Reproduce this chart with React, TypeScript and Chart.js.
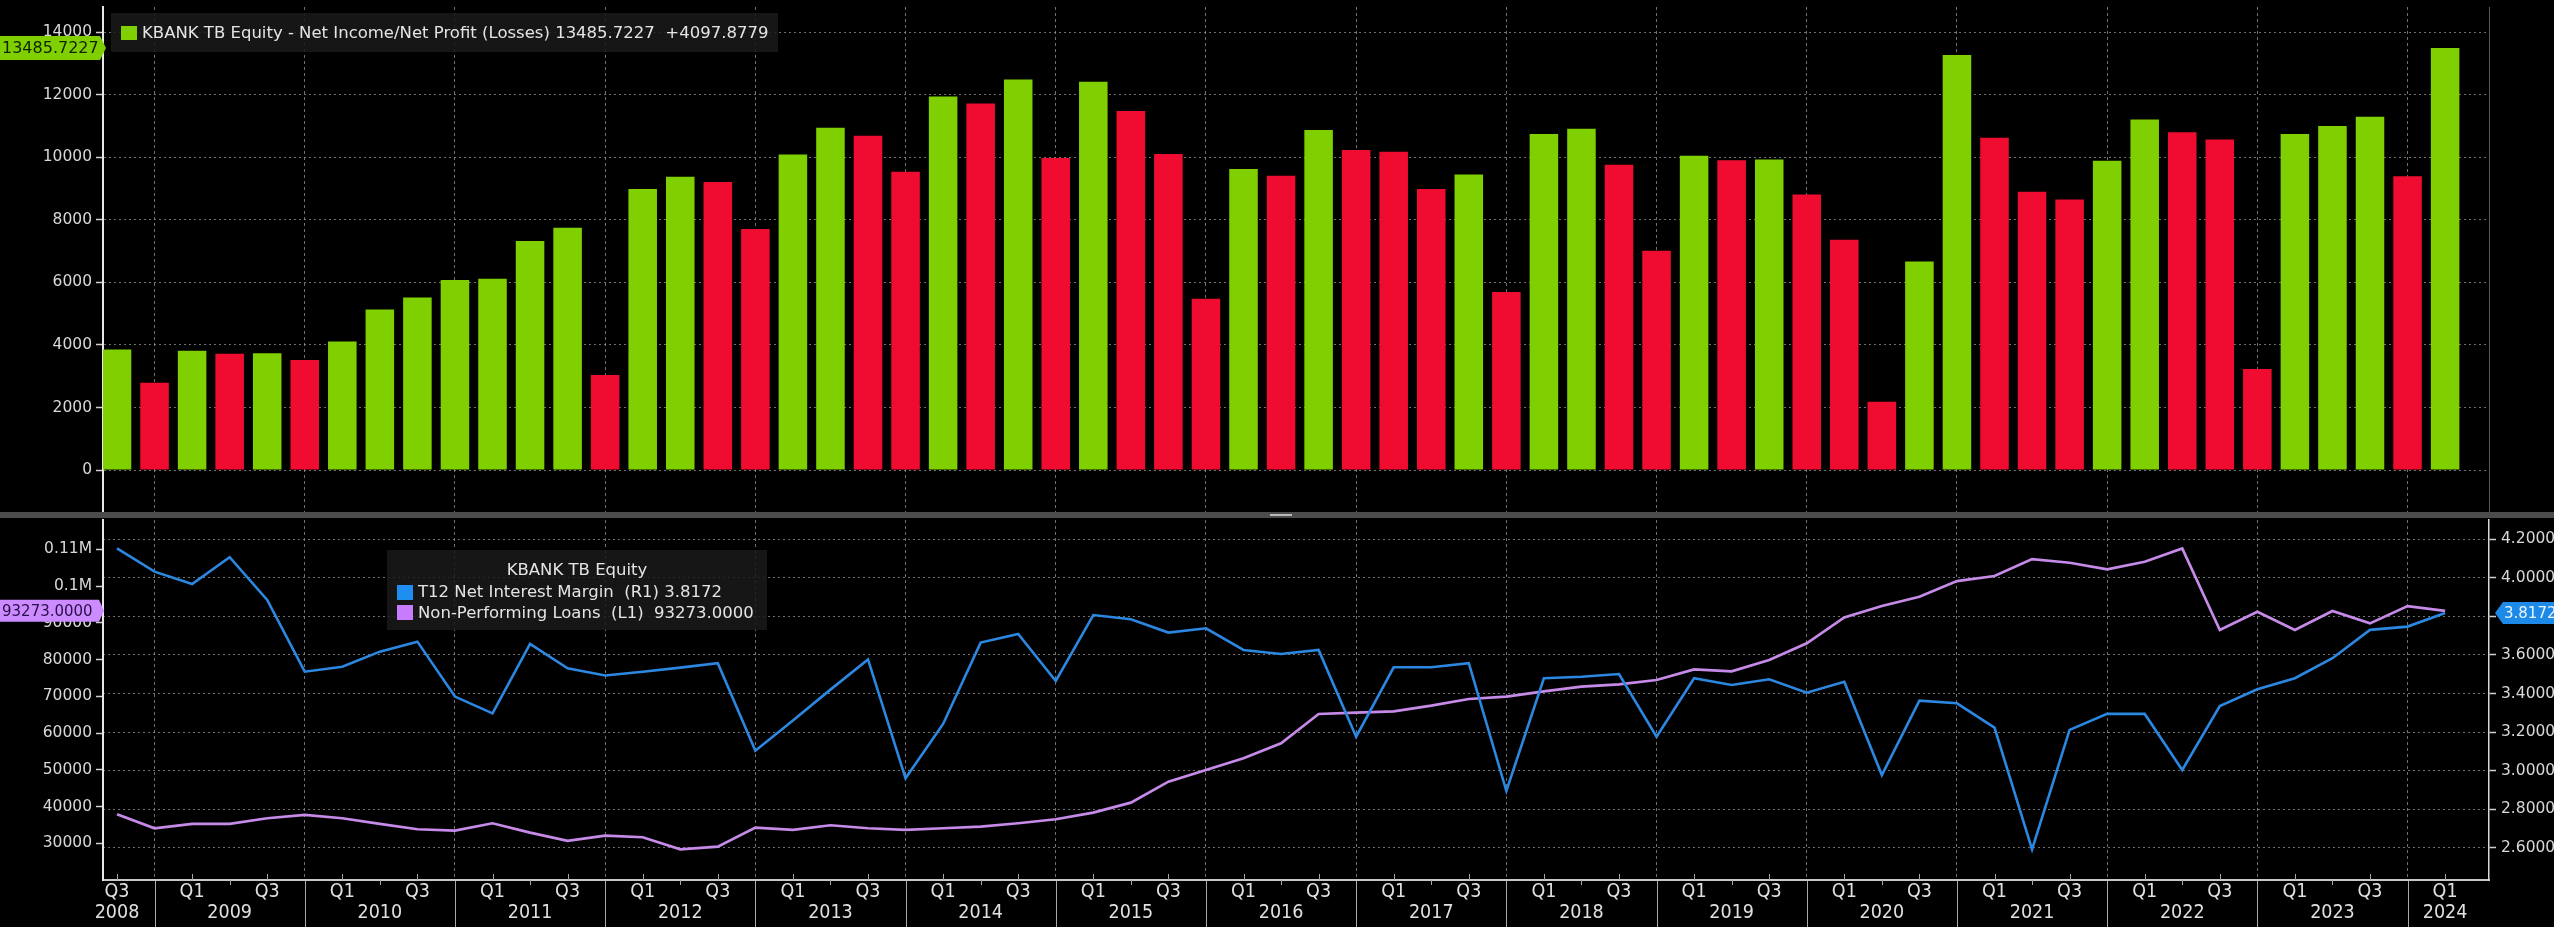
import React, { useEffect, useRef } from "react";
import { Chart, registerables } from "chart.js";

Chart.register(...registerables);

// ---------------- data ----------------
const quarters = [
  "2008 Q3", "2008 Q4",
  "2009 Q1", "2009 Q2", "2009 Q3", "2009 Q4",
  "2010 Q1", "2010 Q2", "2010 Q3", "2010 Q4",
  "2011 Q1", "2011 Q2", "2011 Q3", "2011 Q4",
  "2012 Q1", "2012 Q2", "2012 Q3", "2012 Q4",
  "2013 Q1", "2013 Q2", "2013 Q3", "2013 Q4",
  "2014 Q1", "2014 Q2", "2014 Q3", "2014 Q4",
  "2015 Q1", "2015 Q2", "2015 Q3", "2015 Q4",
  "2016 Q1", "2016 Q2", "2016 Q3", "2016 Q4",
  "2017 Q1", "2017 Q2", "2017 Q3", "2017 Q4",
  "2018 Q1", "2018 Q2", "2018 Q3", "2018 Q4",
  "2019 Q1", "2019 Q2", "2019 Q3", "2019 Q4",
  "2020 Q1", "2020 Q2", "2020 Q3", "2020 Q4",
  "2021 Q1", "2021 Q2", "2021 Q3", "2021 Q4",
  "2022 Q1", "2022 Q2", "2022 Q3", "2022 Q4",
  "2023 Q1", "2023 Q2", "2023 Q3", "2023 Q4",
  "2024 Q1",
];

const netIncome = [
  3857, 2791,
  3814, 3720, 3735, 3516,
  4112, 5135, 5519, 6073,
  6115, 7319, 7745, 3036,
  8981, 9375, 9205, 7703,
  10089, 10942, 10686, 9535,
  11943, 11719, 12486, 9972,
  12412, 11474, 10100, 5476,
  9621, 9407, 10867, 10228,
  10175, 8981, 9450, 5689,
  10739, 10910, 9759, 7010,
  10047, 9905, 9925, 8811,
  7362, 2184, 6669, 13264,
  10622, 8896, 8651, 9887,
  11208, 10793, 10569, 3228,
  10739, 10995, 11293, 9387.8448,
  13485.7227,
];

const nimT12 = [
  4.153, 4.032,
  3.968, 4.107, 3.885, 3.513,
  3.539, 3.617, 3.669, 3.384,
  3.297, 3.657, 3.531, 3.493,
  3.513, 3.534, 3.557, 3.103,
  3.26, 3.42, 3.577, 2.96,
  3.242, 3.664, 3.709, 3.465,
  3.807, 3.785, 3.716, 3.738,
  3.626, 3.605, 3.626, 3.176,
  3.536, 3.536, 3.557, 2.894,
  3.479, 3.487, 3.501, 3.176,
  3.479, 3.444, 3.474, 3.404,
  3.461, 2.977, 3.363, 3.349,
  3.223, 2.591, 3.211, 3.294,
  3.294, 3.003, 3.335, 3.422,
  3.479, 3.583, 3.73, 3.747,
  3.8172,
];

const nplLoans = [
  37891, 34082,
  35261, 35261, 36803, 37710,
  36803, 35261, 33809, 33447,
  35442, 32902, 30635, 32086,
  31633, 28367, 29093, 34263,
  33628, 34898, 34082, 33628,
  34082, 34535, 35442, 36530,
  38344, 41065, 46780, 49954,
  53129, 57210, 65192, 65554,
  65917, 67459, 69273, 69908,
  71359, 72629, 73264, 74443,
  77345, 76801, 79885, 84420,
  91495, 94578, 97118, 101381,
  102741, 107367, 106369, 104555,
  106642, 110270, 88048, 93037,
  88048, 93218, 89862, 94578,
  93273,
];

const incomeTicks = [0, 2000, 4000, 6000, 8000, 10000, 12000, 14000];
const nplTicks = [30000, 40000, 50000, 60000, 70000, 80000, 90000, 100000, 110000];
const nimTicks = [2.6, 2.8, 3.0, 3.2, 3.4, 3.6, 3.8, 4.0, 4.2];

const incomeTitle = "KBANK TB Equity - Net Income/Net Profit (Losses)";
const lowerTitle = "KBANK TB Equity";
const nimName = "T12 Net Interest Margin  (R1)";
const nplName = "Non-Performing Loans  (L1)";

// ---------------- styles ----------------
const FONT = '"DejaVu Sans", "Noto Sans", sans-serif';
const XFONT = '"Liberation Sans Narrow", "DejaVu Sans Condensed", sans-serif';
const GREEN = "#80cf00";
const RED = "#f00c30";
const BLUE = "#2b87e0";
const PURPLE = "#c68ae8";
const GRID = "rgba(150,150,150,0.75)";
const CLEAR = "rgba(0,0,0,0)";
const TICK_TXT = "#d8d8d8";
const AXIS = "#d0d0d0";

const X_MIN = -0.373;
const X_MAX = 63.169;

const lastIdx = netIncome.length - 1;
const lastIncome = netIncome[lastIdx];
const incomeChange = lastIncome - netIncome[lastIdx - 1];
const lastNim = nimT12[nimT12.length - 1];
const lastNpl = nplLoans[nplLoans.length - 1];

function near(list: number[], v: number) {
  return list.some((t) => Math.abs(t - v) < 1e-7 * Math.max(1, Math.abs(t)));
}
function withMinor(major: number[], min: number, max: number) {
  const half = (major[1] - major[0]) / 2;
  const vals = [...major, ...major.map((m) => m - half), major[major.length - 1] + half];
  return vals
    .filter((v) => v >= min - 1e-9 && v <= max + 1e-9)
    .sort((a, b) => a - b)
    .map((value) => ({ value }));
}
function isYearEnd(v: number) {
  const q = quarters[v];
  return !!q && q.endsWith("Q4");
}
function zeroPad(s: any) {
  s.paddingTop = 0;
  s.paddingBottom = 0;
  s.paddingLeft = 0;
  s.paddingRight = 0;
}

function drawTag(
  ctx: CanvasRenderingContext2D,
  o: { left: number; right: number; tip: number; y: number; h: number; bg: string; fg: string; text: string; textX: number; size: number; pointRight: boolean }
) {
  const t = o.y - o.h / 2;
  const b = o.y + o.h / 2;
  ctx.save();
  ctx.fillStyle = o.bg;
  ctx.beginPath();
  if (o.pointRight) {
    ctx.moveTo(o.left, t);
    ctx.lineTo(o.right, t);
    ctx.lineTo(o.tip, o.y);
    ctx.lineTo(o.right, b);
    ctx.lineTo(o.left, b);
  } else {
    ctx.moveTo(o.tip, o.y);
    ctx.lineTo(o.left, t);
    ctx.lineTo(o.right, t);
    ctx.lineTo(o.right, b);
    ctx.lineTo(o.left, b);
  }
  ctx.closePath();
  ctx.fill();
  ctx.fillStyle = o.fg;
  ctx.font = `${o.size}px ${FONT}`;
  ctx.textBaseline = "middle";
  ctx.textAlign = "left";
  ctx.fillText(o.text, o.textX, o.y + 1);
  ctx.restore();
}

const yearEndGrid = (c: any) => (c.tick && isYearEnd(c.tick.value) ? GRID : CLEAR);

export default function App() {
  const topRef = useRef<HTMLCanvasElement>(null);
  const botRef = useRef<HTMLCanvasElement>(null);

  useEffect(() => {
    const barColors = netIncome.map((v, i) => (i === 0 || v >= netIncome[i - 1] ? GREEN : RED));

    const topTag = {
      id: "topTag",
      afterDraw(chart: any) {
        const y = chart.scales.y.getPixelForValue(lastIncome);
        drawTag(chart.ctx, {
          left: 0, right: 100, tip: 106, y, h: 24, bg: GREEN, fg: "#0e2400",
          text: lastIncome.toFixed(4), textX: 2, size: 16, pointRight: true,
        });
      },
    };

    const top = new Chart(topRef.current as HTMLCanvasElement, {
      type: "bar",
      data: {
        datasets: [
          {
            data: netIncome.map((v, i) => ({ x: i, y: v })),
            backgroundColor: barColors,
            borderWidth: 0,
            categoryPercentage: 1,
            barPercentage: 0.76,
          } as any,
        ],
      },
      options: {
        animation: false,
        responsive: false,
        maintainAspectRatio: false,
        layout: { padding: { top: 7, right: 0, bottom: 0, left: 0 } },
        plugins: { legend: { display: false }, tooltip: { enabled: false } },
        scales: {
          x: {
            type: "linear",
            offset: false,
            min: X_MIN,
            max: X_MAX,
            afterBuildTicks: (s: any) => {
              s.ticks = quarters.map((_, i) => ({ value: i }));
            },
            ticks: { display: false },
            grid: { offset: false, color: yearEndGrid, lineWidth: 1, drawTicks: false },
            border: { display: false, dash: [3, 3] },
            afterFit: (s: any) => {
              s.height = 0;
              zeroPad(s);
            },
          },
          y: {
            type: "linear",
            position: "left",
            min: -1340,
            max: 14800,
            afterBuildTicks: (s: any) => {
              s.ticks = withMinor(incomeTicks, -1340, 14800);
            },
            ticks: {
              color: TICK_TXT,
              padding: 4,
              font: { family: FONT, size: 15.5 },
              callback: (v: any) => (near(incomeTicks, v) ? String(v) : null),
            },
            grid: {
              color: (c: any) => (c.tick && near(incomeTicks, c.tick.value) ? GRID : CLEAR),
              lineWidth: 1,
              drawTicks: true,
              tickLength: 7,
              tickColor: AXIS,
              tickWidth: 1.5,
            },
            border: { display: true, color: "#e8e8e8", width: 2, dash: [2, 3] },
            afterFit: (s: any) => {
              s.width = 103;
              zeroPad(s);
            },
          },
          y2: {
            type: "linear",
            position: "right",
            min: 0,
            max: 1,
            ticks: { display: false },
            grid: { display: false, drawOnChartArea: false, drawTicks: false },
            border: { display: true, color: "#5a5a5a", width: 1 },
            afterFit: (s: any) => {
              s.width = 65;
              zeroPad(s);
            },
          },
        },
      } as any,
      plugins: [topTag],
    });

    const botDecor = {
      id: "botDecor",
      afterDraw(chart: any) {
        const ctx = chart.ctx as CanvasRenderingContext2D;
        const xs = chart.scales.x;
        const bottom = chart.chartArea.bottom;
        ctx.save();
        ctx.strokeStyle = "#a8a8a8";
        ctx.lineWidth = 1;
        xs.ticks.forEach((t: any) => {
          const v = t.value;
          const px = Math.round(xs.getPixelForValue(v)) + 0.5;
          const q = quarters[v];
          ctx.beginPath();
          if (isYearEnd(v)) {
            ctx.moveTo(px, bottom + 1);
            ctx.lineTo(px, chart.height);
          } else if (!q || q.endsWith("Q2")) {
            ctx.moveTo(px, bottom);
            ctx.lineTo(px, bottom + 5);
          } else {
            ctx.moveTo(px, bottom - 6);
            ctx.lineTo(px, bottom);
          }
          ctx.stroke();
        });
        ctx.restore();

        const yl = chart.scales.yL;
        const yr = chart.scales.yR;
        drawTag(ctx, {
          left: 0, right: 99, tip: 104, y: yl.getPixelForValue(lastNpl), h: 22,
          bg: "#cc8cff", fg: "#2a0e48", text: lastNpl.toFixed(4), textX: 2, size: 15, pointRight: true,
        });
        drawTag(ctx, {
          left: 2503, right: 2554, tip: 2495, y: yr.getPixelForValue(lastNim), h: 22,
          bg: "#1e8ae8", fg: "#e8f4ff", text: lastNim.toFixed(4), textX: 2504, size: 15, pointRight: false,
        });
      },
    };

    const bot = new Chart(botRef.current as HTMLCanvasElement, {
      type: "line",
      data: {
        datasets: [
          {
            label: nimName,
            data: nimT12.map((v, i) => ({ x: i, y: v })),
            yAxisID: "yR",
            borderColor: BLUE,
            borderWidth: 2.6,
            pointRadius: 0,
            tension: 0,
          },
          {
            label: nplName,
            data: nplLoans.map((v, i) => ({ x: i, y: v })),
            yAxisID: "yL",
            borderColor: PURPLE,
            borderWidth: 2.7,
            pointRadius: 0,
            tension: 0,
          },
        ],
      },
      options: {
        animation: false,
        responsive: false,
        maintainAspectRatio: false,
        layout: { padding: { top: 2, right: 0, bottom: 0, left: 0 } },
        plugins: { legend: { display: false }, tooltip: { enabled: false } },
        scales: {
          x: {
            type: "linear",
            offset: false,
            min: X_MIN,
            max: X_MAX,
            afterBuildTicks: (s: any) => {
              s.ticks = [...quarters.map((_, i) => i), quarters.length].map((value) => ({ value }));
            },
            ticks: {
              autoSkip: false,
              maxRotation: 0,
              minRotation: 0,
              padding: 1,
              color: "#e0e0e0",
              font: { family: XFONT, size: 19.5, lineHeight: 1.08 },
              callback: (v: any) => {
                const q = quarters[v];
                if (!q) return null;
                const [yr, qq] = q.split(" ");
                const l1 = qq === "Q1" || qq === "Q3" ? qq : "";
                const l2 = qq === "Q2" || v === 0 || v === quarters.length - 1 ? yr : "";
                return [l1, l2];
              },
            },
            grid: { offset: false, color: yearEndGrid, lineWidth: 1, drawTicks: false },
            border: { display: true, color: "#c8c8c8", width: 2, dash: [3, 3] },
            afterFit: (s: any) => {
              s.height = 47;
              zeroPad(s);
            },
          },
          yL: {
            type: "linear",
            position: "left",
            min: 20000,
            max: 118000,
            afterBuildTicks: (s: any) => {
              s.ticks = withMinor(nplTicks, 20000, 118000);
            },
            ticks: {
              color: TICK_TXT,
              padding: 4,
              font: { family: FONT, size: 15.5 },
              callback: (v: any) => {
                if (!near(nplTicks, v)) return null;
                return v >= 100000 ? `${v / 1e6}M` : String(v);
              },
            },
            grid: {
              drawOnChartArea: false,
              drawTicks: true,
              tickLength: 7,
              tickColor: AXIS,
              tickWidth: 1.5,
            },
            border: { display: true, color: "#e8e8e8", width: 2 },
            afterFit: (s: any) => {
              s.width = 103;
              zeroPad(s);
            },
          },
          yR: {
            type: "linear",
            position: "right",
            min: 2.4324,
            max: 4.3,
            afterBuildTicks: (s: any) => {
              s.ticks = withMinor(nimTicks, 2.4324, 4.3);
            },
            ticks: {
              color: TICK_TXT,
              padding: 5,
              font: { family: FONT, size: 15.5 },
              callback: (v: any) => (near(nimTicks, v) ? Number(v).toFixed(4) : null),
            },
            grid: {
              color: (c: any) => (c.tick && near(nimTicks, c.tick.value) ? GRID : CLEAR),
              lineWidth: 1,
              drawTicks: true,
              tickLength: 7,
              tickColor: AXIS,
              tickWidth: 1.5,
            },
            border: { display: true, color: "#d8d8d8", width: 1.5, dash: [2, 3] },
            afterFit: (s: any) => {
              s.width = 65;
              zeroPad(s);
            },
          },
        },
      } as any,
      plugins: [botDecor],
    });

    return () => {
      top.destroy();
      bot.destroy();
    };
  }, []);

  const legendBg = "rgba(26,26,26,0.86)";
  return (
    <div
      style={{
        position: "fixed",
        left: 0,
        top: 0,
        width: 2554,
        height: 927,
        background: "#000",
        overflow: "hidden",
        fontFamily: FONT,
        color: "#e4e4e4",
      }}
    >
      <canvas ref={topRef} width={2554} height={512} style={{ position: "absolute", left: 0, top: 0, display: "block" }} />
      <div style={{ position: "absolute", left: 0, top: 512, width: 2554, height: 6, background: "#4c4c4c" }} />
      <div style={{ position: "absolute", left: 1270, top: 514, width: 22, height: 2, background: "#b8b8b8" }} />
      <canvas ref={botRef} width={2554} height={409} style={{ position: "absolute", left: 0, top: 518, display: "block" }} />

      {/* top legend */}
      <div
        style={{
          position: "absolute",
          left: 111,
          top: 13,
          height: 39,
          paddingRight: 10,
          background: legendBg,
          whiteSpace: "pre",
          fontSize: 16.5,
          lineHeight: "20px",
        }}
      >
        <span style={{ position: "absolute", left: 10, top: 13, width: 16, height: 14, background: GREEN }} />
        <span style={{ display: "block", marginLeft: 31, marginTop: 10 }}>
          {`${incomeTitle} ${lastIncome.toFixed(4)}  +${incomeChange.toFixed(4)}`}
        </span>
      </div>

      {/* bottom legend */}
      <div
        style={{
          position: "absolute",
          left: 387,
          top: 550,
          width: 380,
          height: 80,
          background: legendBg,
          whiteSpace: "pre",
          fontSize: 16.5,
          lineHeight: "20px",
        }}
      >
        <div style={{ position: "absolute", left: 0, top: 10, width: 380, textAlign: "center" }}>{lowerTitle}</div>
        <span style={{ position: "absolute", left: 10, top: 35, width: 16, height: 15, background: "#1e8ef0" }} />
        <div style={{ position: "absolute", left: 31, top: 32 }}>{`${nimName} ${lastNim.toFixed(4)}`}</div>
        <span style={{ position: "absolute", left: 10, top: 55, width: 16, height: 15, background: "#c77cff" }} />
        <div style={{ position: "absolute", left: 31, top: 53 }}>{`${nplName}  ${lastNpl.toFixed(4)}`}</div>
      </div>
    </div>
  );
}
